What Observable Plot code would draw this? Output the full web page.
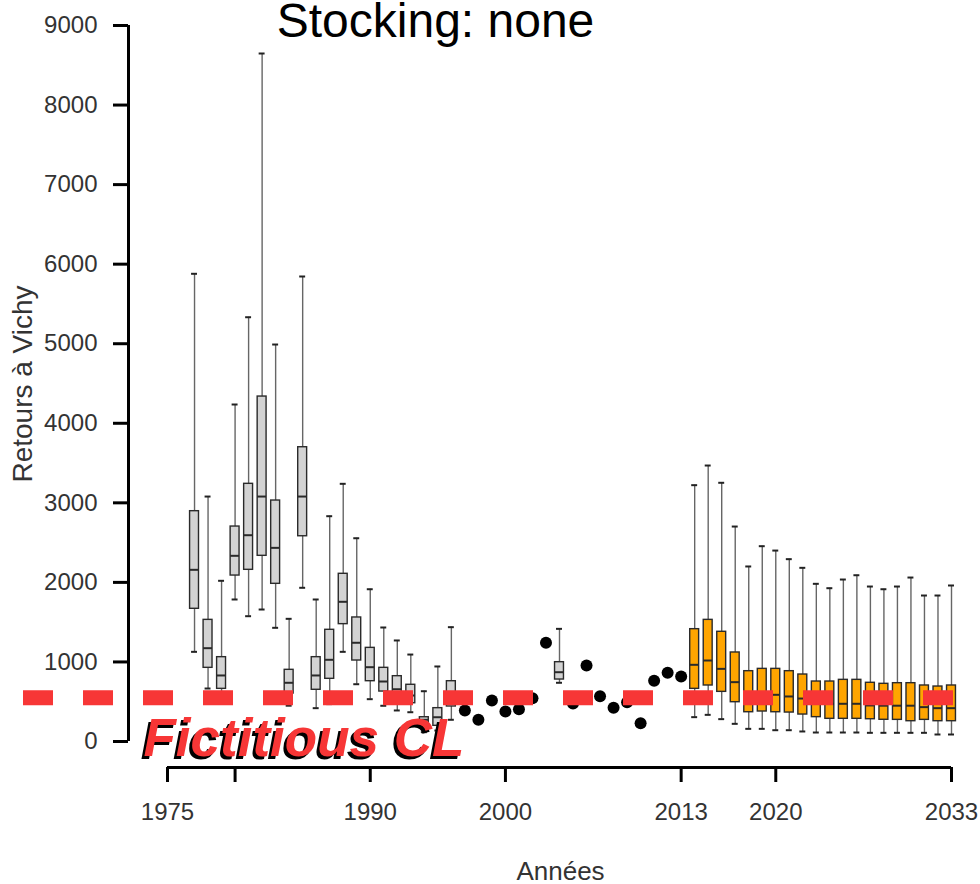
<!DOCTYPE html>
<html>
<head>
<meta charset="utf-8">
<script src="https://cdn.jsdelivr.net/npm/d3@7"></script>
<script src="https://cdn.jsdelivr.net/npm/@observablehq/plot@0.6"></script>
<style>
  html, body { margin: 0; padding: 0; background: #fff; }
  #chart svg { display: block; }
</style>
</head>
<body>
<div id="chart"></div>
<script>
// ---------- Data ----------
const chartTitle = "Stocking: none";
const xTitle = "Années";
const yTitle = "Retours à Vichy";
const clLabel = "Fictitious CL";
const clValue = 550;

const xTicks = [1975, 1980, 1990, 2000, 2013, 2020, 2033];
const xTickLabels = ["1975", "", "1990", "2000", "2013", "2020", "2033"];
const yTicks = [0, 1000, 2000, 3000, 4000, 5000, 6000, 7000, 8000, 9000];

// Historical reconstruction (grey boxes)
const histYears = [1977, 1978, 1979, 1980, 1981, 1982, 1983, 1984, 1985, 1986,
                   1987, 1988, 1989, 1990, 1991, 1992, 1993, 1994, 1995, 1996, 2004];
const histLo  = [1127, 666, 480, 1785, 1575, 1659, 1429, 450, 1932, 419,
                 470, 1127, 720, 532, 449, 390, 368, 117, 138, 273, 738];
const histQ1  = [1668, 926, 662, 2086, 2158, 2334, 1982, 603, 2580, 650,
                 788, 1475, 1018, 758, 628, 537, 481, 230, 197, 440, 779];
const histMed = [2158, 1173, 830, 2334, 2593, 3079, 2434, 738, 3079, 830,
                 1027, 1756, 1241, 934, 754, 657, 578, 273, 305, 600, 871];
const histQ3  = [2895, 1529, 1060, 2702, 3239, 4336, 3029, 901, 3699, 1060,
                 1404, 2108, 1559, 1177, 926, 821, 713, 305, 419, 758, 997];
const histHi  = [5879, 3079, 2020, 4236, 5333, 8648, 4990, 1542, 5845, 1785,
                 2832, 3239, 2555, 1914, 1433, 1270, 1093, 632, 943, 1437, 1416];

// Observed returns (black dots)
const obsYears  = [1997, 1998, 1999, 2000, 2001, 2002, 2003, 2005, 2006, 2007,
                   2008, 2009, 2010, 2011, 2012, 2013];
const obsValues = [390, 273, 515, 377, 406, 544, 1240, 478, 955, 570,
                   423, 494, 230, 763, 863, 817];

// Projections (orange boxes)
const projYears = [2014, 2015, 2016, 2017, 2018, 2019, 2020, 2021, 2022, 2023,
                   2024, 2025, 2026, 2027, 2028, 2029, 2030, 2031, 2032, 2033];
const projLo  = [306, 335, 281, 222, 159, 159, 142, 142, 126, 113,
                 113, 113, 113, 109, 109, 109, 109, 109, 88, 88];
const projQ1  = [662, 704, 624, 494, 368, 377, 368, 364, 339, 306,
                 285, 285, 285, 280, 273, 272, 255, 272, 255, 255];
const projMed = [964, 1018, 913, 746, 575, 570, 587, 566, 540, 490,
                 474, 474, 474, 453, 450, 450, 450, 432, 419, 419];
const projQ3  = [1412, 1529, 1379, 1119, 884, 913, 913, 884, 842, 754,
                 754, 775, 775, 738, 725, 733, 733, 704, 691, 704];
const projHi  = [3222, 3469, 3252, 2702, 2200, 2455, 2400, 2292, 2183, 1982,
                 1927, 2036, 2090, 1948, 1914, 1948, 2061, 1835, 1835, 1961];

// ---------- Build tables ----------
const toRows = (years, lo, q1, med, q3, hi) =>
  years.map((year, i) => ({year, lo: lo[i], q1: q1[i], med: med[i], q3: q3[i], hi: hi[i]}));
const hist = toRows(histYears, histLo, histQ1, histMed, histQ3, histHi);
const proj = toRows(projYears, projLo, projQ1, projMed, projQ3, projHi);
const obs = obsYears.map((year, i) => ({year, value: obsValues[i]}));

const boxHalf = 0.33;   // half box width, in years
const capHalf = 0.22;   // half whisker-cap width, in years

function boxMarks(rows, fill) {
  return [
    Plot.ruleX(rows, {x: "year", y1: "lo", y2: "hi", stroke: "#666", strokeWidth: 1.4}),
    Plot.ruleY(rows, {y: "hi", x1: d => d.year - capHalf, x2: d => d.year + capHalf, stroke: "#222", strokeWidth: 2}),
    Plot.ruleY(rows, {y: "lo", x1: d => d.year - capHalf, x2: d => d.year + capHalf, stroke: "#222", strokeWidth: 2}),
    Plot.rect(rows, {x1: d => d.year - boxHalf, x2: d => d.year + boxHalf, y1: "q1", y2: "q3",
                     fill, stroke: "#2a2a2a", strokeWidth: 1.4}),
    Plot.ruleY(rows, {y: "med", x1: d => d.year - boxHalf, x2: d => d.year + boxHalf, stroke: "#2a2a2a", strokeWidth: 2})
  ];
}

const red = "#f73636";
const font = "'Liberation Sans', Arimo, Arial, sans-serif";

const chart = Plot.plot({
  width: 980,
  height: 884,
  marginLeft: 23,
  marginRight: 0,
  marginTop: 0,
  marginBottom: 117,
  x: {domain: [xTicks[0], xTicks[xTicks.length - 1]], range: [167, 951]},
  y: {domain: [yTicks[0], yTicks[yTicks.length - 1]], range: [741, 25]},
  style: {fontFamily: font, fontSize: "24px", background: "#fff", color: "#333"},
  marks: [
    ...boxMarks(hist, "#d3d3d3"),
    ...boxMarks(proj, "#ffa500"),
    Plot.dot(obs, {x: "year", y: "value", r: 6, fill: "#000", stroke: "none"}),
    // fictitious conservation limit
    Plot.ruleY([clValue], {stroke: red, strokeWidth: 15, strokeDasharray: "30,30"}),
    // axes (R style)
    Plot.ruleY([yTicks[0]], {x1: xTicks[0], x2: xTicks[xTicks.length - 1], dy: 26, stroke: "#000", strokeWidth: 3}),
    Plot.ruleX([xTicks[0]], {y1: yTicks[0], y2: yTicks[yTicks.length - 1], dx: -39, stroke: "#000", strokeWidth: 3}),
    Plot.axisX({ticks: xTicks, tickSize: 15, tickPadding: 20, strokeWidth: 3, stroke: "#000",
                tickFormat: d => xTickLabels[xTicks.indexOf(d)], label: null, fill: "#333", fontSize: 24}),
    Plot.axisY({ticks: yTicks, anchor: "left", dx: 105, tickSize: 15, tickPadding: 16, strokeWidth: 3, stroke: "#000",
                tickFormat: d => String(d), label: null, fill: "#333", fontSize: 24}),
    // titles
    Plot.text([chartTitle], {frameAnchor: "top-left", dx: 412, dy: 36, lineAnchor: "bottom",
                             textAnchor: "middle", fontSize: 48, fill: "#000"}),
    Plot.text([xTitle], {frameAnchor: "bottom-left", dx: 537, dy: 112, lineAnchor: "bottom",
                         textAnchor: "middle", fontSize: 26, fill: "#333"}),
    Plot.text([yTitle], {frameAnchor: "left", dx: 8, rotate: -90, lineAnchor: "bottom",
                         textAnchor: "middle", fontSize: 28, fill: "#333"}),
    // CL label with black shadow
    Plot.text([clLabel], {x: xTicks[0], y: clValue, dx: -27, dy: 61, lineAnchor: "bottom", textAnchor: "start",
                          fontSize: 53, fontWeight: "bold", fontStyle: "italic", fill: "#000"}),
    Plot.text([clLabel], {x: xTicks[0], y: clValue, dx: -24, dy: 58, lineAnchor: "bottom", textAnchor: "start",
                          fontSize: 53, fontWeight: "bold", fontStyle: "italic", fill: red})
  ]
});

document.getElementById("chart").appendChild(chart);
</script>
</body>
</html>
